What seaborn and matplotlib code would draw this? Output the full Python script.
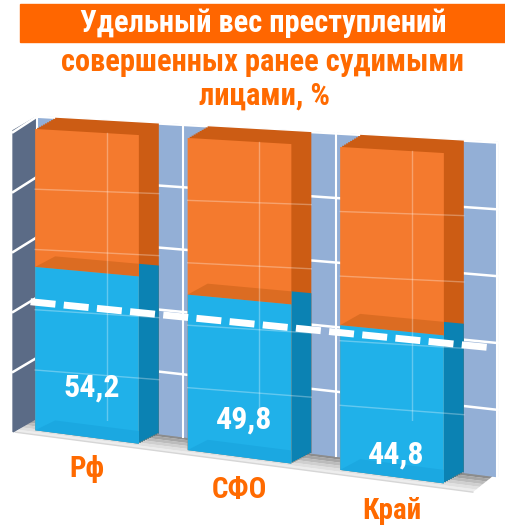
import numpy as np
import pandas as pd
import seaborn as sns
import matplotlib.pyplot as plt
from matplotlib.colors import to_rgb
from matplotlib.transforms import Affine2D, Transform

# data
categories = ['Рф', 'СФО', 'Край']
share_prev_convicted = [54.2, 49.8, 44.8]
total = [100, 100, 100]
value_labels = ['54,2', '49,8', '44,8']
reference_level = 42.5   # white dashed line
gridlines = [0, 20, 40, 60, 80, 100]

df = pd.DataFrame({'cat': categories, 'share': share_prev_convicted, 'total': total})

FONT = ['Roboto Condensed', 'Liberation Sans Narrow', 'DejaVu Sans']
ORANGE_TXT = '#ff6a00'
orange_front, orange_side, orange_band = '#f47a2e', '#cc5c14', '#dc6c22'
blue_front, blue_side, blue_band = '#20b1e9', '#0b82b3', '#1ba8e1'
wall_col, side_wall_col = '#93afd6', '#5b6b86'
W, H = 506, 526
BAR_W = 0.68

fig = plt.figure(figsize=(W / 100, H / 100), dpi=100)
ax = fig.add_axes([10.75 / W, 0.2, 457.5 / W, 0.6])
ax.set_xlim(-0.5, 2.5)
ax.set_ylim(0, 100)
ax.axis('off')


class Perspective(Transform):
    """Fake 3D: floor and top edge slope differently, bars get taller to the right."""
    input_dims = output_dims = 2
    is_separable = False
    has_inverse = False

    def __init__(self, ax):
        super().__init__()
        self.ax = ax

    def transform_non_affine(self, values):
        values = np.asarray(values, dtype=float)
        bb = self.ax.bbox
        x = values[:, 0]
        frac = (values[:, 1] - bb.y0) / bb.height
        bottom = H - (437 + 0.13 * (x - 87))
        height = 305 + 0.071 * (x - 87)
        return np.column_stack([x, bottom + frac * height])


T = ax.transData + Perspective(ax)
DX, DY = 0.131, 4.1


def shifted(k=1.0):
    return Affine2D().translate(DX * k, DY * k) + T


TD = shifted()

# floor, shaded darker towards the back wall
x0, x1 = -0.47, 2.53
c_front, c_back = np.array(to_rgb('#f4f4f4')), np.array(to_rgb('#8c8c8c'))
steps = np.linspace(0, 1, 7)
for a, b in zip(steps[:-1], steps[1:]):
    ya, yb = -1.5 + a * (DY + 1.5), -1.5 + b * (DY + 1.5)
    col = c_front + (c_back - c_front) * b ** 1.5
    ax.fill([x0 + a * DX, x1 + a * DX, x1 + b * DX, x0 + b * DX], [ya, ya, yb, yb],
            color=col, lw=0, transform=T, zorder=0, clip_on=False)
ax.plot([x0, x1], [-1.5, -1.5], color='#d6d6d6', lw=1, transform=T, zorder=0.1,
        clip_on=False)
# back wall
ax.fill([-0.46, 2.56, 2.56, -0.46], [0, 0, 100, 100], color=wall_col,
        transform=TD, zorder=0, clip_on=False)
# left side wall
ax.fill([-0.485, -0.46 + DX, -0.46 + DX, -0.485], [-1.5, DY, 100 + DY, 99],
        color=side_wall_col, transform=T, zorder=0.5, clip_on=False)
for g in gridlines[1:]:
    ax.plot([-0.46, 2.56], [g, g], color='white', lw=1.8, transform=TD,
            zorder=0.6, clip_on=False)
    ax.plot([-0.485, -0.46 + DX], [g - 1.5, g + DY], color='white', lw=1.8,
            transform=T, zorder=0.6, clip_on=False)
for xv in [-0.46, 0.5, 1.5, 2.56]:
    ax.plot([xv, xv], [0, 100], color='white', lw=1.5, transform=TD,
            zorder=0.6, clip_on=False)


def bars(col, color, trans, z):
    before = len(ax.patches)
    sns.barplot(data=df, x='cat', y=col, color=color, saturation=1, width=BAR_W,
                edgecolor='none', ax=ax, order=categories)
    for p in ax.patches[before:]:
        p.set_transform(trans)
        p.set_zorder(z)
        p.set_clip_on(False)


# extruded depth (side + top faces), then front faces
for k in np.linspace(0.1, 1, 10):
    bars('total', orange_side, shifted(k), 1)
    bars('share', blue_side, shifted(k), 1.1)
bars('total', orange_front, T, 2)
bars('share', blue_front, T, 2.1)
ax.set_xlim(-0.5, 2.5)
ax.set_ylim(0, 100)
ax.axis('off')

# bottom faces seen through the glass (kept inside the front face)
for i, v in enumerate(share_prev_convicted):
    for lo, c, z in [(v, orange_band, 2.05), (0, blue_band, 2.15)]:
        ax.fill([i - BAR_W / 2, i + BAR_W / 2, i + BAR_W / 2, i - BAR_W / 2 + DX],
                [lo, lo, lo + DY, lo + DY], color=c, transform=T,
                zorder=z, clip_on=False, lw=0)

# faint grid seen through the glassy bars
for i in range(len(categories)):
    for g in gridlines[1:-1]:
        ax.plot([i - BAR_W / 2, i + BAR_W / 2 + DX], [g, g + 1.5], color='white',
                lw=1, alpha=0.3, transform=T, zorder=2.5)
    ax.plot([i + 0.13, i + 0.13], [0, 100], color='white', lw=1, alpha=0.3,
            transform=T, zorder=2.5)

# dashed reference line
ax.plot([-0.37, 2.64], [reference_level, reference_level], color='white', lw=5,
        dashes=(3.6, 1.2), transform=T, zorder=3, clip_on=False)

# value labels and category labels
for i, (v, lab) in enumerate(zip(share_prev_convicted, value_labels)):
    ax.text(i + 0.03, v - 37.7, lab, transform=T, ha='center', va='center',
            color='white', fontsize=23, fontweight='bold', family=FONT,
            fontstretch='condensed', zorder=4)
    ax.text(i, -10.6, categories[i], transform=T, ha='center', va='center',
            color=ORANGE_TXT, fontsize=21, fontweight='bold', family=FONT,
            fontstretch='condensed', zorder=4)

# title
fig.patches.append(plt.Rectangle((20 / W, 1 - 42 / H), 485 / W, 38 / H,
                                 transform=fig.transFigure, color='#ff6600', zorder=0))
title_lines = [('Удельный вес преступлений', 263, 23, 'white'),
               ('совершенных ранее судимыми', 262, 62, ORANGE_TXT),
               ('лицами, %', 265, 96, ORANGE_TXT)]
for txt, x, y, c in title_lines:
    fig.text(x / W, 1 - y / H, txt, ha='center', va='center', color=c,
             fontsize=22, fontweight='bold', family=FONT, fontstretch='condensed')

fig.savefig('out.png', dpi=100)
